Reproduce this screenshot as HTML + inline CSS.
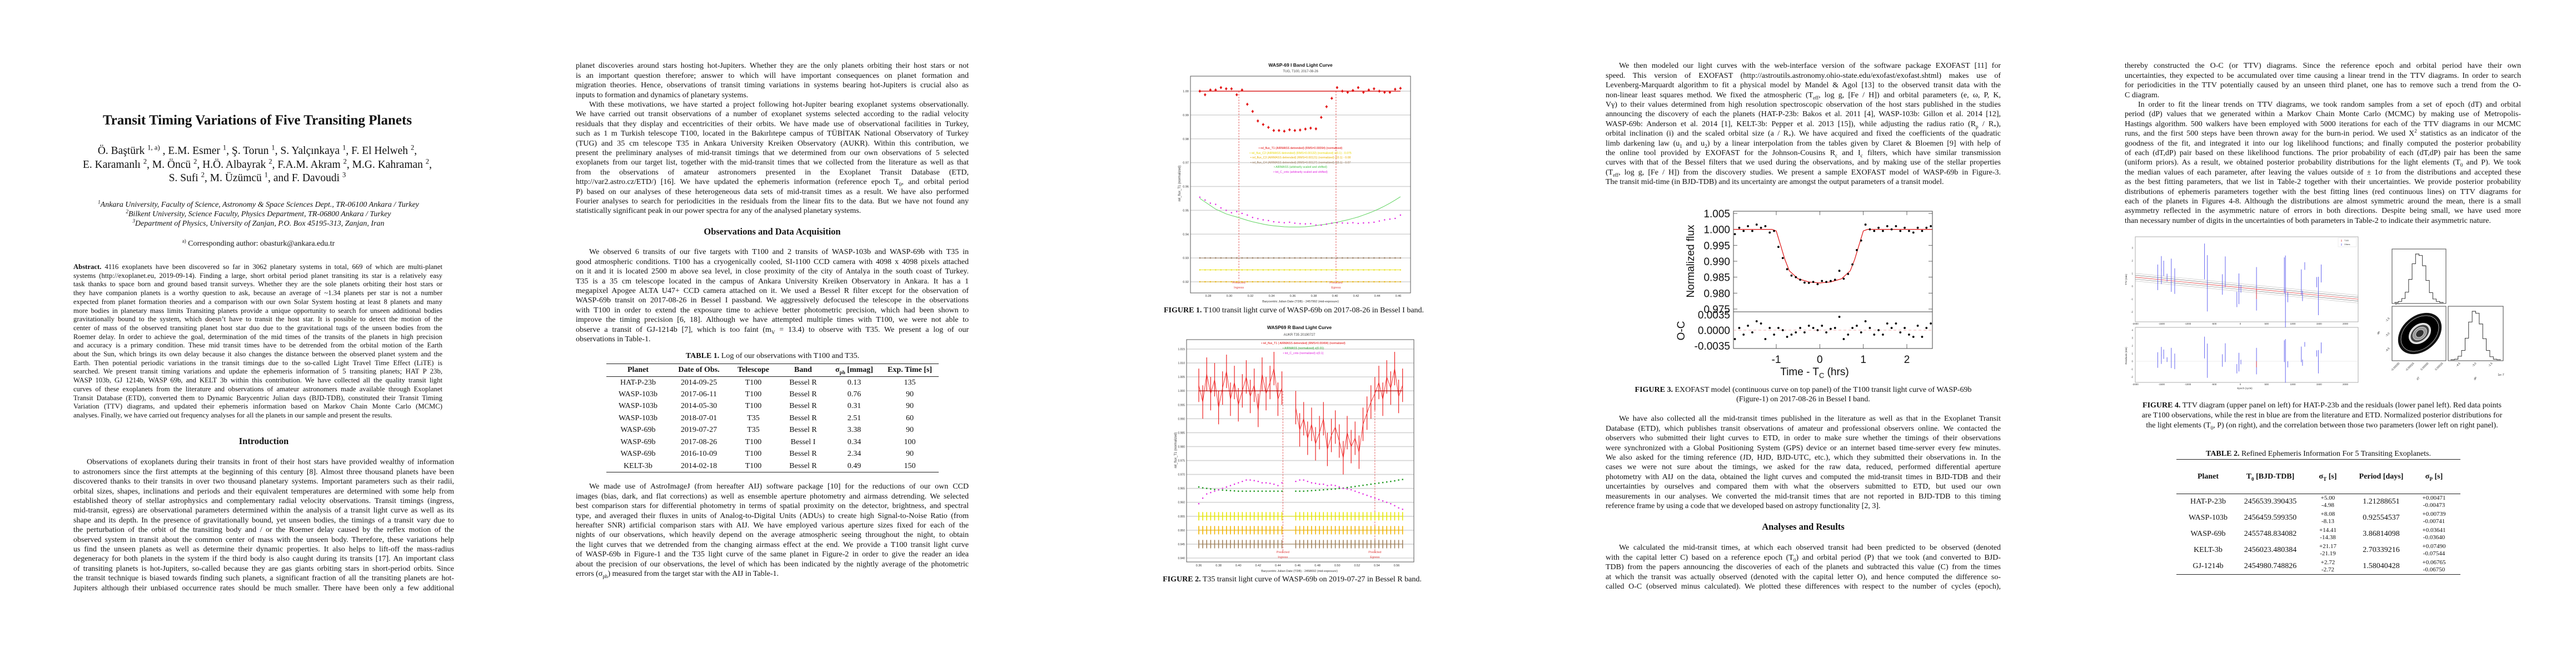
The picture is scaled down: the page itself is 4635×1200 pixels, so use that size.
<!DOCTYPE html>
<html><head><meta charset="utf-8">
<style>
html,body{margin:0;padding:0;background:#fff;}
body{width:4635px;height:1200px;position:relative;overflow:hidden;font-family:"Liberation Serif",serif;color:#111;}
.abs{position:absolute;}
.p{position:absolute;font-size:14px;line-height:17.4px;}
.l{white-space:nowrap;display:block;transform-origin:0 50%;}
.i{padding-left:24px;}
.ab{font-size:12.7px;line-height:15.7px;}
.ctr{text-align:center;white-space:nowrap;}
.h{font-weight:bold;font-size:16.5px;}
table{border-collapse:collapse;font-size:14px;}
td,th{padding:0;text-align:center;white-space:nowrap;}
sub,sup{font-size:65%;line-height:0;}
</style></head>
<body>

<!-- PAGE 1 -->
<div class="abs ctr" style="left:0;width:926px;top:202px;font-size:25px;font-weight:bold;line-height:30px;">Transit Timing Variations of Five Transiting Planets</div>
<div class="abs ctr" style="left:0;width:926px;top:260px;font-size:19.5px;line-height:24.5px;">
<div>Ö. Baştürk <sup>1, a)</sup> , E.M. Esmer <sup>1</sup>, Ş. Torun <sup>1</sup>, S. Yalçınkaya <sup>1</sup>, F. El Helweh <sup>2</sup>,</div>
<div>E. Karamanlı <sup>2</sup>, M. Öncü <sup>2</sup>, H.Ö. Albayrak <sup>2</sup>, F.A.M. Akram <sup>2</sup>, M.G. Kahraman <sup>2</sup>,</div>
<div>S. Sufi <sup>2</sup>, M. Üzümcü <sup>1</sup>, and F. Davoudi <sup>3</sup></div>
</div>
<div class="abs ctr" style="left:0;width:930px;top:360px;font-size:14px;line-height:17px;font-style:italic;">
<div><sup>1</sup>Ankara University, Faculty of Science, Astronomy &amp; Space Sciences Dept., TR-06100 Ankara / Turkey</div>
<div><sup>2</sup>Bilkent University, Science Faculty, Physics Department, TR-06800 Ankara / Turkey</div>
<div><sup>3</sup>Department of Physics, University of Zanjan, P.O. Box 45195-313, Zanjan, Iran</div>
</div>
<div class="abs ctr" style="left:0;width:930px;top:430px;font-size:14px;line-height:18px;"><sup>a)</sup> Corresponding author: obasturk@ankara.edu.tr</div>

<div class="p ab" style="left:132px;width:664px;top:473px;">
<div class="l"><b>Abstract.</b> 4116 exoplanets have been discovered so far in 3062 planetary systems in total, 669 of which are multi-planet</div>
<div class="l">systems (http://exoplanet.eu, 2019-09-14). Finding a large, short orbital period planet transiting its star is a relatively easy</div>
<div class="l">task thanks to space born and ground based transit surveys. Whether they are the sole planets orbiting their host stars or</div>
<div class="l">they have companion planets is a worthy question to ask, because an average of ~1.34 planets per star is not a number</div>
<div class="l">expected from planet formation theories and a comparison with our own Solar System hosting at least 8 planets and many</div>
<div class="l">more bodies in planetary mass limits Transiting planets provide a unique opportunity to search for unseen additional bodies</div>
<div class="l">gravitationally bound to the system, which doesn’t have to transit the host star. It is possible to detect the motion of the</div>
<div class="l">center of mass of the observed transiting planet host star duo due to the gravitational tugs of the unseen bodies from the</div>
<div class="l">Roemer delay. In order to achieve the goal, determination of the mid times of the transits of the planets in high precision</div>
<div class="l">and accuracy is a primary condition. These mid transit times have to be detrended from the orbital motion of the Earth</div>
<div class="l">about the Sun, which brings its own delay because it also changes the distance between the observed planet system and the</div>
<div class="l">Earth. Then potential periodic variations in the transit timings due to the so-called Light Travel Time Effect (LiTE) is</div>
<div class="l">searched. We present transit timing variations and update the ephemeris information of 5 transiting planets; HAT P 23b,</div>
<div class="l">WASP 103b, GJ 1214b, WASP 69b, and KELT 3b within this contribution. We have collected all the quality transit light</div>
<div class="l">curves of these exoplanets from the literature and observations of amateur astronomers made available through Exoplanet</div>
<div class="l">Transit Database (ETD), converted them to Dynamic Barycentric Julian days (BJD-TDB), constituted their Transit Timing</div>
<div class="l">Variation (TTV) diagrams, and updated their ephemeris information based on Markov Chain Monte Carlo (MCMC)</div>
<div class="l e">analyses. Finally, we have carried out frequency analyses for all the planets in our sample and present the results.</div>
</div>

<div class="abs ctr h" style="left:132px;width:685px;top:784px;line-height:20px;">Introduction</div>
<div class="p" style="left:132px;width:685px;top:823.3px;">
<div class="l i">Observations of exoplanets during their transits in front of their host stars have provided wealthy of information</div>
<div class="l">to astronomers since the first attempts at the beginning of this century [8]. Almost three thousand planets have been</div>
<div class="l">discovered thanks to their transits in over two thousand planetary systems. Important parameters such as their radii,</div>
<div class="l">orbital sizes, shapes, inclinations and periods and their equivalent temperatures are determined with some help from</div>
<div class="l">established theory of stellar astrophysics and complementary radial velocity observations. Transit timings (ingress,</div>
<div class="l">mid-transit, egress) are observational parameters determined within the analysis of a transit light curve as well as its</div>
<div class="l">shape and its depth. In the presence of gravitationally bound, yet unseen bodies, the timings of a transit vary due to</div>
<div class="l">the perturbation of the orbit of the transiting body and / or the Roemer delay caused by the reflex motion of the</div>
<div class="l">observed system in transit about the common center of mass with the unseen body. Therefore, these variations help</div>
<div class="l">us find the unseen planets as well as determine their dynamic properties. It also helps to lift-off the mass-radius</div>
<div class="l">degeneracy for both planets in the system if the third body is also caught during its transits [17]. An important class</div>
<div class="l">of transiting planets is hot-Jupiters, so-called because they are gas giants orbiting stars in short-period orbits. Since</div>
<div class="l">the transit technique is biased towards finding such planets, a significant fraction of all the transiting planets are hot-</div>
<div class="l">Jupiters although their unbiased occurrence rates should be much smaller. There have been only a few additional</div>
</div>

<!-- PAGE 2 -->
<div class="p" style="left:1036px;width:707px;top:110.3px;">
<div class="l">planet discoveries around stars hosting hot-Jupiters. Whether they are the only planets orbiting their host stars or not</div>
<div class="l">is an important question therefore; answer to which will have important consequences on planet formation and</div>
<div class="l">migration theories. Hence, observations of transit timing variations in systems bearing hot-Jupiters is crucial also as</div>
<div class="l e">inputs to formation and dynamics of planetary systems.</div>
<div class="l i">With these motivations, we have started a project following hot-Jupiter bearing exoplanet systems observationally.</div>
<div class="l">We have carried out transit observations of a number of exoplanet systems selected according to the radial velocity</div>
<div class="l">residuals that they display and eccentricities of their orbits. We have made use of observational facilities in Turkey,</div>
<div class="l">such as 1 m Turkish telescope T100, located in the Bakırlıtepe campus of TÜBİTAK National Observatory of Turkey</div>
<div class="l">(TUG) and 35 cm telescope T35 in Ankara University Kreiken Observatory (AUKR). Within this contribution, we</div>
<div class="l">present the preliminary analyses of mid-transit timings that we determined from our own observations of 5 selected</div>
<div class="l">exoplanets from our target list, together with the mid-transit times that we collected from the literature as well as that</div>
<div class="l">from the observations of amateur astronomers presented in the Exoplanet Transit Database (ETD,</div>
<div class="l">http://var2.astro.cz/ETD/) [16]. We have updated the ephemeris information (reference epoch T<sub>0</sub>, and orbital period</div>
<div class="l">P) based on our analyses of these heterogeneous data sets of mid-transit times as a result. We have also performed</div>
<div class="l">Fourier analyses to search for periodicities in the residuals from the linear fits to the data. But we have not found any</div>
<div class="l e">statistically significant peak in our power spectra for any of the analysed planetary systems.</div>
</div>
<div class="abs ctr h" style="left:1036px;width:707px;top:407px;line-height:20px;">Observations and Data Acquisition</div>
<div class="p" style="left:1036px;width:707px;top:445.3px;">
<div class="l i">We observed 6 transits of our five targets with T100 and 2 transits of WASP-103b and WASP-69b with T35 in</div>
<div class="l">good atmospheric conditions. T100 has a cryogenically cooled, SI-1100 CCD camera with 4098 x 4098 pixels attached</div>
<div class="l">on it and it is located 2500 m above sea level, in close proximity of the city of Antalya in the south coast of Turkey.</div>
<div class="l">T35 is a 35 cm telescope located in the campus of Ankara University Kreiken Observatory in Ankara. It has a 1</div>
<div class="l">megapixel Apogee ALTA U47+ CCD camera attached on it. We used a Bessel R filter except for the observation of</div>
<div class="l">WASP-69b transit on 2017-08-26 in Bessel I passband. We aggressively defocused the telescope in the observations</div>
<div class="l">with T100 in order to extend the exposure time to achieve better photometric precision, which had been shown to</div>
<div class="l">improve the timing precision [6, 18]. Although we have attempted multiple times with T100, we were not able to</div>
<div class="l">observe a transit of GJ-1214b [7], which is too faint (m<sub>V</sub> = 13.4) to observe with T35. We present a log of our</div>
<div class="l e">observations in Table-1.</div>
</div>

<div class="abs ctr" style="left:1091px;width:598px;top:632px;font-size:14px;line-height:18px;"><b>TABLE 1.</b> Log of our observations with T100 and T35.</div>
<table class="abs" style="left:1091px;top:654px;width:598px;border-top:1.5px solid #222;border-bottom:1.5px solid #222;">
<colgroup><col style="width:114px"><col style="width:105px"><col style="width:91px"><col style="width:88px"><col style="width:96px"><col style="width:104px"></colgroup>
<tr style="height:23px;border-bottom:1px solid #222;"><th>Planet</th><th>Date of Obs.</th><th>Telescope</th><th>Band</th><th>σ<sub>ph</sub> [mmag]</th><th>Exp. Time [s]</th></tr>
<tr style="height:21.5px"><td>HAT-P-23b</td><td>2014-09-25</td><td>T100</td><td>Bessel R</td><td>0.13</td><td>135</td></tr>
<tr style="height:21.5px"><td>WASP-103b</td><td>2017-06-11</td><td>T100</td><td>Bessel R</td><td>0.76</td><td>90</td></tr>
<tr style="height:21.5px"><td>WASP-103b</td><td>2014-05-30</td><td>T100</td><td>Bessel R</td><td>0.31</td><td>90</td></tr>
<tr style="height:21.5px"><td>WASP-103b</td><td>2018-07-01</td><td>T35</td><td>Bessel R</td><td>2.51</td><td>60</td></tr>
<tr style="height:21.5px"><td>WASP-69b</td><td>2019-07-27</td><td>T35</td><td>Bessel R</td><td>3.38</td><td>90</td></tr>
<tr style="height:21.5px"><td>WASP-69b</td><td>2017-08-26</td><td>T100</td><td>Bessel I</td><td>0.34</td><td>100</td></tr>
<tr style="height:21.5px"><td>WASP-69b</td><td>2016-10-09</td><td>T100</td><td>Bessel R</td><td>2.34</td><td>90</td></tr>
<tr style="height:21.5px"><td>KELT-3b</td><td>2014-02-18</td><td>T100</td><td>Bessel R</td><td>0.49</td><td>150</td></tr>
</table>

<div class="p" style="left:1036px;width:707px;top:867.3px;">
<div class="l i">We made use of AstroImageJ (from hereafter AIJ) software package [10] for the reductions of our own CCD</div>
<div class="l">images (bias, dark, and flat corrections) as well as ensemble aperture photometry and airmass detrending. We selected</div>
<div class="l">best comparison stars for differential photometry in terms of spatial proximity on the detector, brightness, and spectral</div>
<div class="l">type, and averaged their fluxes in units of Analog-to-Digital Units (ADUs) to create high Signal-to-Noise Ratio (from</div>
<div class="l">hereafter SNR) artificial comparison stars with AIJ. We have employed various aperture sizes fixed for each of the</div>
<div class="l">nights of our observations, which heavily depend on the average atmospheric seeing throughout the night, to obtain</div>
<div class="l">the light curves that we detrended from the changing airmass effect at the end. We provide a T100 transit light curve</div>
<div class="l">of WASP-69b in Figure-1 and the T35 light curve of the same planet in Figure-2 in order to give the reader an idea</div>
<div class="l">about the precision of our observations, the level of which has been indicated by the nightly average of the photometric</div>
<div class="l e">errors (σ<sub>ph</sub>) measured from the target star with the AIJ in Table-1.</div>
</div>

<div class="abs ctr" style="left:2078px;width:500px;top:550px;font-size:14px;line-height:18px;"><b>FIGURE 1.</b> T100 transit light curve of WASP-69b on 2017-08-26 in Bessel I band.</div>
<div class="abs ctr" style="left:2070px;width:510px;top:1034px;font-size:14px;line-height:18px;"><b>FIGURE 2.</b> T35 transit light curve of WASP-69b on 2019-07-27 in Bessel R band.</div>

<!-- PAGE 3 -->
<div class="p" style="left:2889px;width:711px;top:110.3px;">
<div class="l i">We then modeled our light curves with the web-interface version of the software package EXOFAST [11] for</div>
<div class="l">speed. This version of EXOFAST (http://astroutils.astronomy.ohio-state.edu/exofast/exofast.shtml) makes use of</div>
<div class="l">Levenberg-Marquardt algorithm to fit a physical model by Mandel &amp; Agol [13] to the observed transit data with the</div>
<div class="l">non-linear least squares method. We fixed the atmospheric (T<sub>eff</sub>, log g, [Fe / H]) and orbital parameters (e, ω, P, K,</div>
<div class="l">Vγ) to their values determined from high resolution spectroscopic observation of the host stars published in the studies</div>
<div class="l">announcing the discovery of each the planets (HAT-P-23b: Bakos et al. 2011 [4], WASP-103b: Gillon et al. 2014 [12],</div>
<div class="l">WASP-69b: Anderson et al. 2014 [1], KELT-3b: Pepper et al. 2013 [15]), while adjusting the radius ratio (R<sub>p</sub> / R<sub>*</sub>),</div>
<div class="l">orbital inclination (i) and the scaled orbital size (a / R<sub>*</sub>). We have acquired and fixed the coefficients of the quadratic</div>
<div class="l">limb darkening law (u<sub>1</sub> and u<sub>2</sub>) by a linear interpolation from the tables given by Claret &amp; Bloemen [9] with help of</div>
<div class="l">the online tool provided by EXOFAST for the Johnson-Cousins R<sub>c</sub> and I<sub>c</sub> filters, which have similar transmission</div>
<div class="l">curves with that of the Bessel filters that we used during the observations, and by making use of the stellar properties</div>
<div class="l">(T<sub>eff</sub>, log g, [Fe / H]) from the discovery studies. We present a sample EXOFAST model of WASP-69b in Figure-3.</div>
<div class="l e">The transit mid-time (in BJD-TDB) and its uncertainty are amongst the output parameters of a transit model.</div>
</div>
<div class="abs ctr" style="left:2889px;width:711px;top:693px;font-size:14px;line-height:17px;">
<div><b>FIGURE 3.</b> EXOFAST model (continuous curve on top panel) of the T100 transit light curve of WASP-69b</div>
<div>(Figure-1) on 2017-08-26 in Bessel I band.</div></div>
<div class="p" style="left:2889px;width:711px;top:745.3px;">
<div class="l i">We have also collected all the mid-transit times published in the literature as well as that in the Exoplanet Transit</div>
<div class="l">Database (ETD), which publishes transit observations of amateur and professional observers online. We contacted the</div>
<div class="l">observers who submitted their light curves to ETD, in order to make sure whether the timings of their observations</div>
<div class="l">were synchronized with a Global Positioning System (GPS) device or an internet based time-server every few minutes.</div>
<div class="l">We also asked for the timing reference (JD, HJD, BJD-UTC, etc.), which they submitted their observations in. In the</div>
<div class="l">cases we were not sure about the timings, we asked for the raw data, reduced, performed differential aperture</div>
<div class="l">photometry with AIJ on the data, obtained the light curves and computed the mid-transit times in BJD-TDB and their</div>
<div class="l">uncertainties by ourselves and compared them with what the observers submitted to ETD, but used our own</div>
<div class="l">measurements in our analyses. We converted the mid-transit times that are not reported in BJD-TDB to this timing</div>
<div class="l e">reference frame by using a code that we developed based on astropy functionality [2, 3].</div>
</div>
<div class="abs ctr h" style="left:2889px;width:711px;top:938px;line-height:20px;">Analyses and Results</div>
<div class="p" style="left:2889px;width:711px;top:977.3px;">
<div class="l i">We calculated the mid-transit times, at which each observed transit had been predicted to be observed (denoted</div>
<div class="l">with the capital letter C) based on a reference epoch (T<sub>0</sub>) and orbital period (P) that we took (and converted to BJD-</div>
<div class="l">TDB) from the papers announcing the discoveries of each of the planets and subtracted this value (C) from the times</div>
<div class="l">at which the transit was actually observed (denoted with the capital letter O), and hence computed the difference so-</div>
<div class="l">called O-C (observed minus calculated). We plotted these differences with respect to the number of cycles (epoch),</div>
</div>

<!-- PAGE 4 -->
<div class="p" style="left:3823px;width:713px;top:110.3px;">
<div class="l">thereby constructed the O-C (or TTV) diagrams. Since the reference epoch and orbital period have their own</div>
<div class="l">uncertainties, they expected to be accumulated over time causing a linear trend in the TTV diagrams. In order to search</div>
<div class="l">for periodicities in the TTV potentially caused by an unseen third planet, one has to remove such a trend from the O-</div>
<div class="l e">C diagram.</div>
<div class="l i">In order to fit the linear trends on TTV diagrams, we took random samples from a set of epoch (dT) and orbital</div>
<div class="l">period (dP) values that we generated within a Markov Chain Monte Carlo (MCMC) by making use of Metropolis-</div>
<div class="l">Hastings algorithm. 500 walkers have been employed with 5000 iterations for each of the TTV diagrams in our MCMC</div>
<div class="l">runs, and the first 500 steps have been thrown away for the burn-in period. We used X<sup>2</sup> statistics as an indicator of the</div>
<div class="l">goodness of the fit, and integrated it into our log likelihood functions; and finally computed the posterior probability</div>
<div class="l">of each (dT,dP) pair based on these likelihood functions. The prior probability of each (dT,dP) pair has been the same</div>
<div class="l">(uniform priors). As a result, we obtained posterior probability distributions for the light elements (T<sub>0</sub> and P). We took</div>
<div class="l">the median values of each parameter, after leaving the values outside of ± 1σ from the distributions and accepted these</div>
<div class="l">as the best fitting parameters, that we list in Table-2 together with their uncertainties. We provide posterior probability</div>
<div class="l">distributions of ephemeris parameters together with the best fitting lines (red continuous lines) on TTV diagrams for</div>
<div class="l">each of the planets in Figures 4-8. Although the distributions are almost symmetric around the mean, there is a small</div>
<div class="l">asymmetry reflected in the asymmetric nature of errors in both directions. Despite being small, we have used more</div>
<div class="l e">than necessary number of digits in the uncertainties of both parameters in Table-2 to indicate their asymmetric nature.</div>
</div>
<div class="abs ctr" style="left:3818px;width:720px;top:721px;font-size:14px;line-height:18px;">
<div><b>FIGURE 4.</b> TTV diagram (upper panel on left) for HAT-P-23b and the residuals (lower panel left). Red data points</div>
<div>are T100 observations, while the rest in blue are from the literature and ETD. Normalized posterior distributions for</div>
<div>the light elements (T<sub>0</sub>, P) (on right), and the correlation between those two parameters (lower left on right panel).</div></div>

<div class="abs ctr" style="left:3916px;width:511px;top:808px;font-size:14px;line-height:18px;"><b>TABLE 2.</b> Refined Ephemeris Information For 5 Transiting Exoplanets.</div>
<table class="abs" style="left:3916px;top:826px;width:511px;border-top:1.5px solid #222;border-bottom:1.5px solid #222;">
<colgroup><col style="width:114px"><col style="width:110px"><col style="width:97px"><col style="width:95px"><col style="width:95px"></colgroup>
<tr style="height:62px;border-bottom:1px solid #222;"><th>Planet</th><th>T<sub>0</sub> [BJD-TDB]</th><th>σ<sub>T</sub> [s]</th><th>Period [days]</th><th>σ<sub>P</sub> [s]</th></tr>
<tr style="height:29px"><td>HAT-P-23b</td><td>2456539.390435</td><td style="font-size:11px;line-height:13px">+5.00<br>-4.98</td><td>1.21288651</td><td style="font-size:11px;line-height:13px">+0.00471<br>-0.00473</td></tr>
<tr style="height:29px"><td>WASP-103b</td><td>2456459.599350</td><td style="font-size:11px;line-height:13px">+8.08<br>-8.13</td><td>0.92554537</td><td style="font-size:11px;line-height:13px">+0.00739<br>-0.00741</td></tr>
<tr style="height:29px"><td>WASP-69b</td><td>2455748.834082</td><td style="font-size:11px;line-height:13px">+14.41<br>-14.38</td><td>3.86814098</td><td style="font-size:11px;line-height:13px">+0.03641<br>-0.03640</td></tr>
<tr style="height:29px"><td>KELT-3b</td><td>2456023.480384</td><td style="font-size:11px;line-height:13px">+21.17<br>-21.19</td><td>2.70339216</td><td style="font-size:11px;line-height:13px">+0.07490<br>-0.07544</td></tr>
<tr style="height:29px"><td>GJ-1214b</td><td>2454980.748826</td><td style="font-size:11px;line-height:13px">+2.72<br>-2.72</td><td>1.58040428</td><td style="font-size:11px;line-height:13px">+0.06765<br>-0.06750</td></tr>
</table>

<svg id="charts" class="abs" style="left:0;top:0;" width="4635" height="1200" viewBox="0 0 4635 1200" xmlns="http://www.w3.org/2000/svg"></svg>

<script>
// ---------- Figure 1 data (WASP-69 I band, T100) ----------
const fig1Time = [0.272,0.277,0.282,0.287,0.292,0.297,0.302,0.307,0.312,0.317,0.322,0.327,0.332,0.337,0.342,0.347,0.352,0.357,0.362,0.367,0.372,0.377,0.382,0.387,0.392,0.397,0.402,0.407,0.412,0.417,0.422,0.427,0.432,0.437,0.442,0.447,0.452,0.457,0.462];
const fig1T1 = [1.0,0.9985,1.0005,1.0005,1.0015,1.001,1.001,0.9985,1.0005,0.9945,0.9915,0.9875,0.986,0.9848,0.9835,0.9835,0.9832,0.9838,0.9835,0.9837,0.9841,0.9845,0.9842,0.989,0.9935,0.997,1.0015,1.0,0.9995,1.0003,1.0015,0.9995,1.0005,1.001,1.0,0.9995,0.9995,1.0008,1.0012];
const fig1Magenta = [0.9555,0.9543,0.953,0.9525,0.951,0.950,0.949,0.9495,0.9487,0.948,0.947,0.9465,0.946,0.9457,0.9452,0.945,0.9448,0.945,0.9446,0.9444,0.9443,0.9444,0.9438,0.9438,0.9442,0.9446,0.9448,0.9447,0.9446,0.9448,0.9445,0.9447,0.9448,0.945,0.9455,0.946,0.9463,0.9466,0.948];
const fig1Green = [0.955,0.9535,0.952,0.9505,0.9495,0.9485,0.9478,0.9472,0.9465,0.9458,0.9452,0.9447,0.9442,0.9438,0.9435,0.9433,0.9431,0.943,0.943,0.943,0.9431,0.9433,0.9436,0.9439,0.9442,0.9446,0.945,0.9455,0.946,0.9466,0.9472,0.948,0.9488,0.9497,0.9507,0.9518,0.953,0.9543,0.9557];
const fig1CompLevels = [0.930,0.925,0.920];
const fig1ModelTime = [0.272,0.309,0.401,0.462];
const fig1ModelFlux = [1.0,1.0,1.0,1.0];
const fig1Markers = [0.309,0.401];
const fig1YTicks = [1.00,0.99,0.98,0.97,0.96,0.95,0.94,0.93,0.92];
const fig1XTicks = [0.28,0.30,0.32,0.34,0.36,0.38,0.40,0.42,0.44,0.46];

// ---------- Figure 2 data (WASP-69 R band, T35) ----------
const fig2Time = [0.360,0.364,0.368,0.372,0.376,0.380,0.384,0.388,0.392,0.396,0.400,0.404,0.408,0.412,0.416,0.420,0.424,0.428,0.432,0.436,0.440,0.444,
0.458,0.462,0.466,0.470,0.474,0.478,0.482,0.486,0.490,0.494,0.498,0.502,0.506,0.510,0.514,0.518,0.522,0.526,0.530,0.534,0.538,0.542,0.546,0.550,0.554,0.558,0.562,0.566];
const fig2T1 = [1.002,0.996,1.006,0.999,1.004,0.994,1.001,1.007,0.997,1.003,0.995,1.000,1.005,0.998,1.002,0.993,1.006,0.999,1.003,1.008,0.997,1.001,
0.994,0.986,0.990,0.983,0.988,0.981,0.985,0.990,0.979,0.984,0.987,0.982,0.976,0.985,0.980,0.983,0.978,0.988,0.992,0.996,0.999,1.003,0.997,1.005,1.001,1.008,0.998,1.002];
const fig2Magenta = [0.9595,0.9615,0.963,0.9635,0.964,0.9645,0.965,0.9655,0.966,0.9665,0.967,0.9675,0.968,0.968,0.9678,0.9675,0.967,0.967,0.9668,0.9665,0.966,0.967,
0.9675,0.968,0.968,0.9675,0.967,0.9668,0.9665,0.9665,0.966,0.9662,0.966,0.9655,0.965,0.9648,0.9645,0.964,0.9635,0.963,0.9625,0.962,0.9615,0.961,0.9605,0.960,0.9595,0.9588,0.958,0.9575];
const fig2Green = [0.9655,0.9652,0.965,0.9648,0.9646,0.9645,0.9644,0.9643,0.9642,0.9641,0.964,0.964,0.964,0.964,0.964,0.964,0.964,0.964,0.964,0.964,0.964,0.964,
0.964,0.964,0.964,0.9641,0.9642,0.9643,0.9644,0.9645,0.9646,0.9647,0.9648,0.965,0.9651,0.9653,0.9655,0.9657,0.9659,0.9661,0.9663,0.9665,0.9667,0.9669,0.9671,0.9673,0.9675,0.9677,0.968,0.9682];
const fig2CompLevels = [0.955,0.950,0.945];
const fig2T1Err = [0.006];
const fig2Markers = [0.445,0.538];
const fig2YTicks = [1.015,1.010,1.005,1.000,0.995,0.990,0.985,0.980,0.975,0.970,0.965,0.960,0.955,0.950,0.945,0.940];
const fig2XTicks = [0.36,0.38,0.40,0.42,0.44,0.46,0.48,0.50,0.52,0.54,0.56];

// ---------- Figure 3 data (EXOFAST model) ----------
const fig3Time = [-1.95,-1.85,-1.75,-1.65,-1.55,-1.45,-1.35,-1.25,-1.15,-1.05,-0.95,-0.85,-0.75,-0.65,-0.55,-0.45,-0.35,-0.25,-0.15,-0.05,0.05,0.15,0.25,0.35,0.45,0.55,0.65,0.75,0.85,0.95,1.05,1.15,1.25,1.35,1.45,1.55,1.65,1.75,1.85,1.95,2.05,2.15,2.25,2.35,2.45,2.55];
const fig3Flux = [0.9985,1.0005,0.9995,1.001,0.9995,1.0015,1.0005,1.001,0.999,0.9995,0.9945,0.991,0.9875,0.9855,0.985,0.9842,0.9833,0.9832,0.9835,0.9828,0.9838,0.9835,0.9838,0.9842,0.987,0.9845,0.986,0.989,0.9935,0.9965,1.0015,1.0,0.9995,1.0005,0.9995,1.001,1.0,1.001,0.9995,1.0005,0.9995,0.999,1.0005,0.9995,1.0005,1.001];
const fig3Resid = [-0.002,0.0005,-0.001,0.001,-0.0005,0.002,0.0015,-0.002,0.0005,-0.001,0.0005,0.0,-0.0015,-0.001,-0.0005,0.0005,-0.0005,0.001,0.0005,0.0,0.001,-0.0005,0.0003,0.0005,0.003,-0.002,-0.001,0.0005,0.001,-0.0005,0.002,0.0005,-0.001,0.0,-0.001,0.0015,0.0005,0.0015,-0.0005,0.0005,-0.001,-0.0015,0.001,-0.0015,0.0005,0.0015];
const fig3ModelTime = [-1.98,-1.1,-1.0,-0.9,-0.8,-0.7,-0.5,-0.25,0,0.25,0.5,0.7,0.8,0.9,1.0,1.1,2.58];
const fig3ModelFlux = [1,1,0.9995,0.995,0.9905,0.987,0.9845,0.9835,0.9832,0.9835,0.9845,0.987,0.9905,0.995,0.9995,1,1];
const fig3YTicks = [1.005,1.000,0.995,0.990,0.985,0.980,0.975];
const fig3ResTicks = [0.0035,0.0,-0.0035];
const fig3XTicks = [-1,0,1,2];

// ---------- Figure 4 data (HAT-P-23b TTV) ----------
const fig4Epoch = [-1573,-1503,-1503,-1459,-1395,-1314,-1249,-681,-627,-341,-286,-65,-27,11,308,838,859,903,1162,1184,1227,1454,1486,1541];
const fig4Ttv = [0.7,1.76,0.77,1.4,0.68,0.86,0.4,1.94,0.23,0.14,1.13,-1.03,-0.2,-0.2,-0.2,0.86,-0.4,-0.85,0.32,-0.76,1.58,0.32,-0.76,1.0];
const fig4Err = [1.0,0.6,0.6,0.6,0.3,1.3,1.0,1.4,2.2,0.8,1.2,0.6,1.2,0.3,1.7,1.4,2.8,0.4,1.0,0.4,0.3,0.4,1.5,0.7];
const fig4T100Epoch = [308];
const fig4T100Ttv = [-0.6];
const fig4T100Err = [0.4];
const fig4FitIntercept = [-0.1];
const fig4FitSlope = [-0.000405];
const fig4BandOffsets = [-0.3,-0.15,0.15,0.3];
const fig4XTicks = [-2000,-1500,-1000,-500,0,500,1000,1500,2000];
const fig4YTicksU = [3,2,1,0,-1,-2];
const fig4YTicksL = [4,3,2,1,0,-1,-2];
const fig4HistDT = [1,3,9,22,48,80,100,97,76,46,21,8,3,1];
const fig4HistDP = [1,2,8,20,45,78,100,96,74,44,20,7,2,1];
const fig4DTTicks = ['-0.00030','-0.00015','0.00000','0.00015'];
const fig4DPTicks = ['-4.5','-3.0','-1.5'];

const NS='http://www.w3.org/2000/svg';
const svg=document.getElementById('charts');
function mk(tag,parent){const e=document.createElementNS(NS,tag);parent.appendChild(e);return e;}
function at(e,o){for(const k in o)e.setAttribute(k,o[k]);return e;}
function lin(d0,d1,r0,r1){return v=>r0+(v-d0)*(r1-r0)/(d1-d0);}
function txt(parent,x,y,s,size,anchor,fill){const t=mk('text',parent);at(t,{x:x,y:y,'font-size':size,'text-anchor':anchor||'middle',fill:fill||'#222','font-family':'Liberation Sans, Arial, sans-serif'});t.textContent=s;return t;}
function line(parent,x1,y1,x2,y2,stroke,w,dash){const l=mk('line',parent);at(l,{x1:x1,y1:y1,x2:x2,y2:y2,stroke:stroke,'stroke-width':w});if(dash)l.setAttribute('stroke-dasharray',dash);return l;}

// ================= FIGURE 1 =================
(function(){
const g=mk('g',svg);


const X=lin(0.28,0.46,2174,2516), Y=lin(1.0,0.92,164,507);
let t=txt(g,2340,120,'WASP-69 I Band Light Curve',8.5,'middle','#111');t.setAttribute('font-weight','bold');


t=txt(g,2340,130,'TUG, T100, 2017-08-26',6,'middle','#444');


fig1YTicks.forEach(v=>{
  const gl=line(g,2142,Y(v),2538,Y(v),'#d4d4d4',1.6);
  
  
  const tl=txt(g,2139,Y(v)+2,v.toFixed(2),5.5,'end','#333');
  
  
});
fig1XTicks.forEach(v=>{
  const tl=txt(g,X(v),534,v.toFixed(2),5.5,'middle','#333');
  
  
});
const box=mk('rect',g);at(box,{x:2142,y:137,width:396,height:390,fill:'none',stroke:'#555','stroke-width':1});


t=txt(g,0,0,'rel_flux_T1 (normalized)',6,'middle','#333');t.setAttribute('transform','translate(2124,330) rotate(-90)');


t=txt(g,2340,544,'Barycentric Julian Date (TDB) - 2457992 (mid-exposure)',5.5,'middle','#333');


fig1Markers.forEach((m,i)=>{
  const ml=line(g,X(m),Y(1.0),X(m),Y(0.9205),'#e05050',0.9,'3,2');
  
  
  const a=txt(g,X(m),510,'Predicted',5.5,'middle','#e04040');
  
  
  const b=txt(g,X(m),519,i===0?'Ingress':'Egress',5.5,'middle','#e04040');
  
  
});
const compColors=['#8b6b4a','#e8e000','#e8b000'];
fig1CompLevels.forEach((lv,ci)=>{
  const pl=mk('polyline',g);at(pl,{points:fig1Time.map(tm=>X(tm)+','+Y(lv)).join(' '),fill:'none',stroke:compColors[ci],'stroke-width':0.8});
  
  
  fig1Time.forEach(tm=>{const d=mk('rect',g);at(d,{x:X(tm)-1,y:Y(lv)-1,width:2,height:2,fill:compColors[ci]});
    
    });
});
const gp=mk('polyline',g);at(gp,{points:fig1Time.map((tm,i)=>X(tm)+','+Y(fig1Green[i])).join(' '),fill:'none',stroke:'#5fd35f','stroke-width':1});


fig1Time.forEach((tm,i)=>{const d=mk('rect',g);at(d,{x:X(tm)-1.1,y:Y(fig1Magenta[i])-1.1,width:2.2,height:2.2,fill:'#e020e0'});
  
  });
const mp=mk('polyline',g);at(mp,{points:fig1ModelTime.map((tm,i)=>X(tm)+','+Y(fig1ModelFlux[i])).join(' '),fill:'none',stroke:'#e00000','stroke-width':1.3});


fig1Time.forEach((tm,i)=>{
  const e=line(g,X(tm),Y(fig1T1[i]+0.0006),X(tm),Y(fig1T1[i]-0.0006),'#e00000',1.4);
  
  
  const d=mk('rect',g);at(d,{x:X(tm)-2,y:Y(fig1T1[i])-1,width:4,height:2,fill:'#e00000'});
  
  
});
const legend=[['rel_flux_T1 (AIRMASS detrended) (RMS=0.00094) (normalized)','#e00000',268],
['rel_flux_C2 (AIRMASS detrended) (RMS=0.00132) (normalized) x(0.1) - 0.075','#e8d800',277],
['rel_flux_C3 (AIRMASS detrended) (RMS=0.00121) (normalized) x(0.1) - 0.08','#e8b000',285],
['rel_flux_C4 (AIRMASS detrended) (RMS=0.00127) (normalized) x(0.1) - 0.07','#9a7a5a',294],
['AIRMASS (arbitrarily scaled and shifted)','#40c040',302],
['tot_C_cnts (arbitrarily scaled and shifted)','#e020e0',311]];
legend.forEach(L=>{const lt=txt(g,2340,L[2],'• '+L[0],5.2,'middle',L[1]);
  
  });
})();

// ================= FIGURE 2 =================
(function(){
const g=mk('g',svg);


const X=lin(0.36,0.56,2157,2513), Y=lin(1.015,0.940,628,1004);
let t=txt(g,2338,592,'WASP69 R Band Light Curve',8.5,'middle','#111');t.setAttribute('font-weight','bold');


t=txt(g,2338,604,'AUKR T35 20190727',6,'middle','#444');


fig2YTicks.forEach(v=>{
  const gl=line(g,2135,Y(v),2544,Y(v),'#d4d4d4',1.6);
  
  
  const tl=txt(g,2132,Y(v)+2,v.toFixed(3),5,'end','#333');
  
  
});
fig2XTicks.forEach(v=>{
  const tl=txt(g,X(v),1019,v.toFixed(2),5.5,'middle','#333');
  
  
});
const box=mk('rect',g);at(box,{x:2135,y:611,width:409,height:400,fill:'none',stroke:'#555','stroke-width':1});


t=txt(g,0,0,'rel_flux_T1 (normalized)',6,'middle','#333');t.setAttribute('transform','translate(2117,810) rotate(-90)');


t=txt(g,2338,1029,'Barycentric Julian Date (TDB) - 2458692 (mid-exposure)',5.5,'middle','#333');


fig2Markers.forEach((m,i)=>{
  const ml=line(g,X(m),Y(1.0),X(m),Y(0.942),'#e05050',0.9,'3,2');
  
  
  const a=txt(g,X(m),995,'Predicted',5.5,'middle','#e04040');
  
  
  const b=txt(g,X(m),1004,i===0?'Ingress':'Egress',5.5,'middle','#e04040');
  
  
});
const compColors=['#e8e800','#f0b400','#a0805a'];
fig2CompLevels.forEach((lv,ci)=>{
  fig2Time.forEach(tm=>{
    const e=line(g,X(tm),Y(lv+0.0015),X(tm),Y(lv-0.0015),compColors[ci],1.6);
    
    
  });
  const pl=mk('polyline',g);at(pl,{points:fig2Time.map(tm=>X(tm)+','+Y(lv)).join(' '),fill:'none',stroke:compColors[ci],'stroke-width':1});
  
  
});
fig2Time.forEach((tm,i)=>{
  const d=mk('rect',g);at(d,{x:X(tm)-1.2,y:Y(fig2Green[i])-1.2,width:2.4,height:2.4,fill:'#1f9a1f'});
  
  
  const m=mk('rect',g);at(m,{x:X(tm)-1.1,y:Y(fig2Magenta[i])-1.1,width:2.2,height:2.2,fill:'#e020e0'});
  
  
});
let seg=[];const segs=[];
fig2Time.forEach((tm,i)=>{if(i>0&&tm-fig2Time[i-1]>0.006){segs.push(seg);seg=[];}seg.push(i);});segs.push(seg);
segs.forEach(s=>{const pl=mk('polyline',g);at(pl,{points:s.map(i=>X(fig2Time[i])+','+Y(fig2T1[i])).join(' '),fill:'none',stroke:'#ee2020','stroke-width':0.9});
  
  });
fig2Time.forEach((tm,i)=>{
  const e=line(g,X(tm),Y(fig2T1[i]+fig2T1Err[0]),X(tm),Y(fig2T1[i]-fig2T1Err[0]),'#ee2020',1.2);
  
  
});
const fl=line(g,X(0.36),Y(1.0),X(0.444),Y(1.0),'#b00000',1.2);


const fl2=line(g,X(0.538),Y(1.0),X(0.566),Y(1.0),'#b00000',1.2);


const legend=[['rel_flux_T1 ( AIRMASS detrended) (RMS=0.00494) (normalized)','#e00000',619],['AIRMASS (normalized) x(0.01)','#1f9a1f',628],['tot_C_cnts (normalized) x(0.1)','#e020e0',637]];
legend.forEach(L=>{const lt=txt(g,2345,L[2],'• '+L[0],5.2,'middle',L[1]);
  
  });
})();

// ================= FIGURE 3 =================
(function(){
const g=mk('g',svg);


const X=lin(-1,2,3196,3431), Y=lin(1.005,0.975,384,556), YR=lin(0.0035,-0.0035,566,622);
const box=mk('rect',g);at(box,{x:3119,y:380,width:358,height:247,fill:'none',stroke:'#444','stroke-width':1});


const dv=line(g,3119,561,3477,561,'#444',1);


fig3YTicks.forEach(v=>{
  const tk=line(g,3119,Y(v),3126,Y(v),'#444',0.8);
  
  
  const tk2=line(g,3470,Y(v),3477,Y(v),'#444',0.8);
  
  
  const tl=txt(g,3113,Y(v)+7,v.toFixed(3),19,'end','#111');
  
  
});
fig3ResTicks.forEach(v=>{
  const tl=txt(g,3113,YR(v)+7,v.toFixed(4),19,'end','#111');
  
  
});
fig3XTicks.forEach(v=>{
  const tk=line(g,X(v),627,X(v),619,'#444',0.8);
  
  
  const tk2=line(g,X(v),380,X(v),387,'#444',0.8);
  
  
  const tl=txt(g,X(v),653,String(v),19,'middle','#111');
  
  
});
let t=txt(g,0,0,'Normalized flux',19,'middle','#111');t.setAttribute('transform','translate(3048,470) rotate(-90)');


t=txt(g,0,0,'O-C',19,'middle','#111');t.setAttribute('transform','translate(3031,595) rotate(-90)');


t=txt(g,3265,675,'Time - T',19,'middle','#111');


t.innerHTML='Time - T<tspan font-size="13" dy="5">C</tspan><tspan dy="-5"> (hrs)</tspan>';
const zl=line(g,3119,YR(0),3477,YR(0),'#f09090',0.8,'5,4');


const mp=mk('polyline',g);at(mp,{points:fig3ModelTime.map((tm,i)=>X(tm)+','+Y(fig3ModelFlux[i])).join(' '),fill:'none',stroke:'#e02020','stroke-width':1.3,'stroke-linejoin':'round'});


fig3Time.forEach((tm,i)=>{
  const c=mk('circle',g);at(c,{cx:X(tm),cy:Y(fig3Flux[i]),r:1.9,fill:'#000'});
  
  
  const r=mk('circle',g);at(r,{cx:X(tm),cy:YR(fig3Resid[i]),r:1.9,fill:'#000'});
  
  
});
})();

// ================= FIGURE 4 =================
(function(){
const g=mk('g',svg);


const X=lin(-2000,2000,3842,4220), YU=lin(0,1,515,492), YL=lin(0,1,650,636);
[[426,153],[589,99]].forEach(b=>{const r=mk('rect',g);at(r,{x:3842,y:b[0],width:401,height:b[1],fill:'none',stroke:'#999','stroke-width':0.8});
  
  });
fig4XTicks.forEach(v=>{
  const a=txt(g,X(v),584,String(v),4.5,'middle','#333');
  
  
  const b=txt(g,X(v),693,String(v),4.5,'middle','#333');
  
  
});
fig4YTicksU.forEach(v=>{const a=txt(g,3838,YU(v)+1.5,String(v),4.5,'end','#333');
  
  });
fig4YTicksL.forEach(v=>{const a=txt(g,3838,YL(v)+1.5,String(v),4.5,'end','#333');
  
  });
let t=txt(g,0,0,'TTV (min)',4.5,'middle','#333');t.setAttribute('transform','translate(3827,503) rotate(-90)');


t=txt(g,0,0,'Residuals (min)',4.5,'middle','#333');t.setAttribute('transform','translate(3827,640) rotate(-90)');


t=txt(g,4039,700,'Epoch (cycle)',4.5,'middle','#333');


const fit=e=>fig4FitIntercept[0]+fig4FitSlope[0]*e;
fig4BandOffsets.forEach(o=>{const l=line(g,3842,YU(fit(-2000)+o),4243,YU(fit(2250)+o),Math.abs(o)>0.2?'#bbb':'#666',0.6);
  
  });
const fl=line(g,3842,YU(fit(-2000)),4243,YU(fit(2250)),'#e04040',0.8);


const zl=line(g,3842,YL(0),4243,YL(0),'#ddd',0.6);


fig4Epoch.forEach((ep,i)=>{
  const e=line(g,X(ep),YU(fig4Ttv[i]+fig4Err[i]),X(ep),YU(fig4Ttv[i]-fig4Err[i]),'#5555ee',0.9);
  
  
  const res=fig4Ttv[i]-fit(ep);
  const r=line(g,X(ep),YL(res+fig4Err[i]),X(ep),YL(res-fig4Err[i]),'#5555ee',0.9);
  
  
});
fig4T100Epoch.forEach((ep,i)=>{
  const e=line(g,X(ep),YU(fig4T100Ttv[i]+fig4T100Err[i]),X(ep),YU(fig4T100Ttv[i]-fig4T100Err[i]),'#e04040',1);
  
  
  const res=fig4T100Ttv[i]-fit(ep);
  const r=line(g,X(ep),YL(res+fig4T100Err[i]),X(ep),YL(res-fig4T100Err[i]),'#e04040',1);
  
  
});
const lb=mk('rect',g);at(lb,{x:4207,y:428,width:33,height:16,fill:'#fff',stroke:'#ddd','stroke-width':0.5});


t=txt(g,4218,434,'T100',3.5,'start','#333');


t=txt(g,4218,441,'Others',3.5,'start','#333');


const lm1=line(g,4213,431,4213,435,'#e04040',0.8);


const lm2=line(g,4213,438,4213,442,'#5555ee',0.8);



// corner plot
function hist(arr,x0,x1,yb,yt,name){
  const n=arr.length,w=(x1-x0-10)/n,mx=Math.max.apply(null,arr);let p='M'+(x0+5)+','+yb;
  arr.forEach((c,i)=>{const y=yb-(c/mx)*(yb-yt);p+=' L'+(x0+5+i*w)+','+y+' L'+(x0+5+(i+1)*w)+','+y;});
  p+=' L'+(x1-5)+','+yb;const h=mk('path',g);at(h,{d:p,fill:'none',stroke:'#222','stroke-width':0.9});
  
  
}
[[4304,448,97,98],[4304,551,97,98],[4405,551,99,98]].forEach(b=>{const r=mk('rect',g);at(r,{x:b[0],y:b[1],width:b[2],height:b[3],fill:'none',stroke:'#333','stroke-width':0.9});
  
  });
hist(fig4HistDT,4304,4401,545,457,'figure-4-dt-histogram');
hist(fig4HistDP,4405,4504,648,560,'figure-4-dp-histogram');
const cg=mk('g',g);cg.setAttribute('transform','translate(4354,600) rotate(-40)');


[[44,32,'#111'],[38,27,'#000'],[22,16,'#ddd'],[19,13,'#444'],[14,10,'#999'],[8,6,'#333']].forEach(e=>{const el=mk('ellipse',cg);at(el,{cx:0,cy:0,rx:e[0],ry:e[1],fill:e[2],stroke:'#fff','stroke-width':0.6});
  
  });
fig4DTTicks.forEach((s,i)=>{const tt=txt(g,0,0,s,5,'end','#222');tt.setAttribute('transform','translate('+(4318+i*26)+',654) rotate(-45)');
  
  });
fig4DPTicks.forEach((s,i)=>{const tt=txt(g,0,0,s,5,'end','#222');tt.setAttribute('transform','translate('+(4427+i*29)+',654) rotate(-45)');
  
  
  const ty=txt(g,0,0,s,5,'end','#222');ty.setAttribute('transform','translate(4300,'+(627-i*27)+') rotate(-45)');
  
  });
t=txt(g,0,0,'dT',5,'middle','#222');t.setAttribute('transform','translate(4352,682) rotate(-45)');


t=txt(g,0,0,'dP',5,'middle','#222');t.setAttribute('transform','translate(4455,682) rotate(-45)');


t=txt(g,0,0,'dP',5,'middle','#222');t.setAttribute('transform','translate(4281,600) rotate(-45)');


t=txt(g,4500,676,'1e−7',5,'middle','#222');


t=txt(g,4309,548,'1e−7',4,'start','#222');


})();

// ---------- justify text lines ----------
document.querySelectorAll('.l').forEach(l=>{
  const cs=getComputedStyle(l);const pad=parseFloat(cs.paddingLeft)||0;
  const target=l.parentNode.clientWidth-pad;
  const r=document.createRange();r.selectNodeContents(l);const w=r.getBoundingClientRect().width;
  if(w>target){l.style.transform='scaleX('+(target/w)+')';return;}
  if(l.classList.contains('e'))return;
  const spaces=(l.textContent.match(/ /g)||[]).length;
  if(spaces>0)l.style.wordSpacing=((target-w)/spaces)+'px';
});
</script>
</body></html>
